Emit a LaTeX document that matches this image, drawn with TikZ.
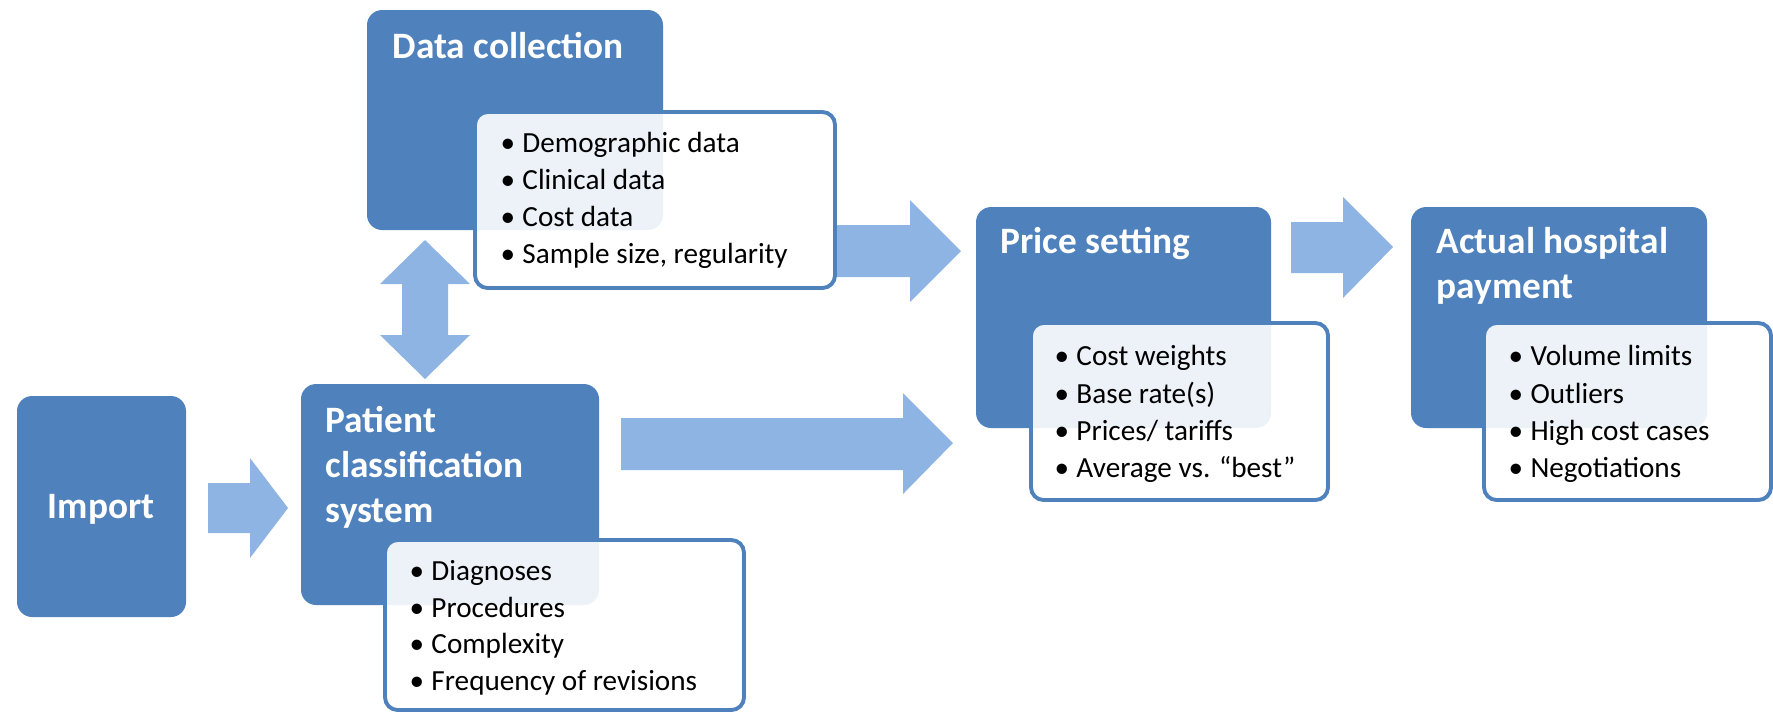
\documentclass[tikz,border=0pt]{standalone}
\usepackage{fontspec}
\setmainfont{Carlito}
\usetikzlibrary{positioning}

\definecolor{boxblue}{RGB}{79,129,189}
\definecolor{arrowblue}{RGB}{142,180,227}
\newcommand{\blt}{\makebox[6.2pt][l]{\textbullet}}

\begin{document}
\begin{tikzpicture}[x=0.01cm,y=-0.01cm,
 bluebox/.style={fill=boxblue,rounded corners=4.3pt},
 listbox/.style={draw=boxblue,line width=1.1pt,fill=white,fill opacity=0.9,rounded corners=3.6pt},
 blockarrow/.style={fill=arrowblue},
 head/.style={anchor=base west,inner sep=0,text=white,font=\fontsize{10.6}{12.8}\selectfont\bfseries},
 item/.style={anchor=base west,inner sep=0,font=\fontsize{8.3}{10}\selectfont}]
 \useasboundingbox (0,0) rectangle (1773,714);
 % block arrows
 \fill[blockarrow](208,483)--(250,483)--(250,458)--(288,508)--(250,558)--(250,533)--(208,533)--cycle;
 \fill[blockarrow](835,225)--(910,225)--(910,200)--(961,251)--(910,302)--(910,277)--(835,277)--cycle;
 \fill[blockarrow](621,418)--(903,418)--(903,393)--(953,443)--(903,494)--(903,470)--(621,470)--cycle;
 \fill[blockarrow](1291,222)--(1343,222)--(1343,197)--(1393,247)--(1343,298)--(1343,273)--(1291,273)--cycle;
 \fill[blockarrow](425,240)--(470,284)--(448,284)--(448,335)--(470,335)--(425,379)--(380,335)--(402,335)--(402,284)--(380,284)--cycle;
 % boxes
 \fill[bluebox](17,396) rectangle (186,617);
 \fill[bluebox](367,10) rectangle (663,230);
 \draw[listbox](475,112) rectangle (835,288);
 \fill[bluebox](301,384) rectangle (599,605);
 \draw[listbox](385,540) rectangle (744,710);
 \fill[bluebox](976,207) rectangle (1271,428);
 \draw[listbox](1031,323) rectangle (1328,500);
 \fill[bluebox](1411,207) rectangle (1707,428);
 \draw[listbox](1484,323) rectangle (1771,500);
 % titles
 \node[head,anchor=base] (import) at (101,518) {Import};
 \node[head] (dc) at (392,58) {Data collection};
 \node[head] (pcs1) at (325,432) {Patient};
 \node[head] (pcs2) at (325,477) {classification};
 \node[head] (pcs3) at (325,522) {system};
 \node[head] (price) at (1000,253) {Price setting};
 \node[head] (pay1) at (1436,253) {Actual hospital};
 \node[head] (pay2) at (1436,298) {payment};
 % lists
 \node[item] (dcA) at (500,152) {\blt Demographic data};
 \node[item] (dcB) at (500,189) {\blt Clinical data};
 \node[item] (dcC) at (500,226) {\blt Cost data};
 \node[item] (dcD) at (500,263) {\blt Sample size, regularity};
 \node[item] (pcsA) at (409,580) {\blt Diagnoses};
 \node[item] (pcsB) at (409,617) {\blt Procedures};
 \node[item] (pcsC) at (409,653) {\blt Complexity};
 \node[item] (pcsD) at (409,690) {\blt Frequency of revisions};
 \node[item] (priceA) at (1054,365) {\blt Cost weights};
 \node[item] (priceB) at (1054,403) {\blt Base rate(s)};
 \node[item] (priceC) at (1054,440) {\blt Prices/ tariffs};
 \node[item] (priceD) at (1054,477) {\blt Average vs. “best”};
 \node[item] (payA) at (1508,365) {\blt Volume limits};
 \node[item] (payB) at (1508,403) {\blt Outliers};
 \node[item] (payC) at (1508,440) {\blt High cost cases};
 \node[item] (payD) at (1508,477) {\blt Negotiations};
\end{tikzpicture}
\end{document}
